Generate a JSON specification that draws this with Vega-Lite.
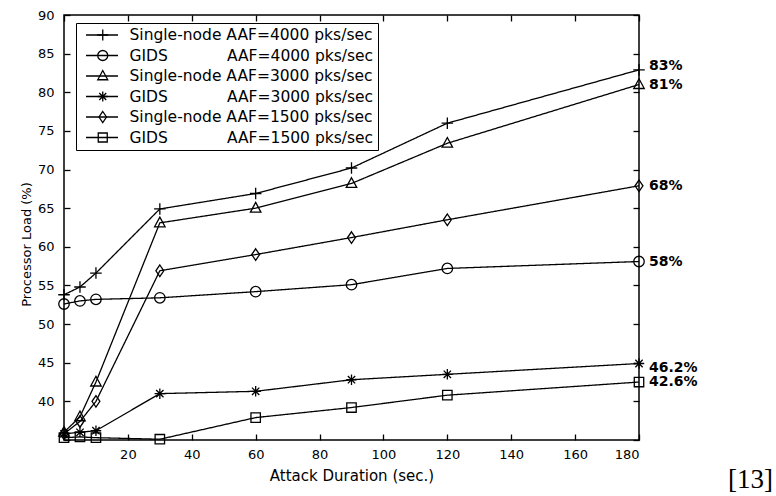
{
  "$schema": "https://vega.github.io/schema/vega-lite/v6.json",
  "width": 575,
  "height": 425,
  "autosize": {"type": "none"},
  "padding": {"left": 64, "top": 15, "right": 137, "bottom": 56},
  "background": "white",
  "config": {
    "view": {"stroke": "black", "strokeWidth": 1.5},
    "font": "DejaVu Sans"
  },
  "title": {
    "text": "[13]",
    "orient": "bottom",
    "anchor": "end",
    "frame": "group",
    "font": "Liberation Serif",
    "fontSize": 27,
    "fontWeight": "normal",
    "color": "black",
    "dx": 134,
    "dy": -16,
    "offset": 0
  },
  "data": {
    "values": [
      {"series": "Single-node AAF=4000 pks/sec", "duration": 0, "load": 53.8},
      {"series": "Single-node AAF=4000 pks/sec", "duration": 5, "load": 54.8},
      {"series": "Single-node AAF=4000 pks/sec", "duration": 10, "load": 56.6},
      {"series": "Single-node AAF=4000 pks/sec", "duration": 30, "load": 64.9},
      {"series": "Single-node AAF=4000 pks/sec", "duration": 60, "load": 66.9},
      {"series": "Single-node AAF=4000 pks/sec", "duration": 90, "load": 70.2},
      {"series": "Single-node AAF=4000 pks/sec", "duration": 120, "load": 76.0},
      {"series": "Single-node AAF=4000 pks/sec", "duration": 180, "load": 82.9, "label": "83%"},
      {"series": "GIDS\u00a0\u00a0\u00a0\u00a0\u00a0\u00a0\u00a0\u00a0\u00a0\u00a0\u00a0\u00a0AAF=4000 pks/sec", "duration": 0, "load": 52.6},
      {"series": "GIDS\u00a0\u00a0\u00a0\u00a0\u00a0\u00a0\u00a0\u00a0\u00a0\u00a0\u00a0\u00a0AAF=4000 pks/sec", "duration": 5, "load": 53.0},
      {"series": "GIDS\u00a0\u00a0\u00a0\u00a0\u00a0\u00a0\u00a0\u00a0\u00a0\u00a0\u00a0\u00a0AAF=4000 pks/sec", "duration": 10, "load": 53.2},
      {"series": "GIDS\u00a0\u00a0\u00a0\u00a0\u00a0\u00a0\u00a0\u00a0\u00a0\u00a0\u00a0\u00a0AAF=4000 pks/sec", "duration": 30, "load": 53.4},
      {"series": "GIDS\u00a0\u00a0\u00a0\u00a0\u00a0\u00a0\u00a0\u00a0\u00a0\u00a0\u00a0\u00a0AAF=4000 pks/sec", "duration": 60, "load": 54.2},
      {"series": "GIDS\u00a0\u00a0\u00a0\u00a0\u00a0\u00a0\u00a0\u00a0\u00a0\u00a0\u00a0\u00a0AAF=4000 pks/sec", "duration": 90, "load": 55.1},
      {"series": "GIDS\u00a0\u00a0\u00a0\u00a0\u00a0\u00a0\u00a0\u00a0\u00a0\u00a0\u00a0\u00a0AAF=4000 pks/sec", "duration": 120, "load": 57.2},
      {"series": "GIDS\u00a0\u00a0\u00a0\u00a0\u00a0\u00a0\u00a0\u00a0\u00a0\u00a0\u00a0\u00a0AAF=4000 pks/sec", "duration": 180, "load": 58.1, "label": "58%"},
      {"series": "Single-node AAF=3000 pks/sec", "duration": 0, "load": 36.0},
      {"series": "Single-node AAF=3000 pks/sec", "duration": 5, "load": 38.0},
      {"series": "Single-node AAF=3000 pks/sec", "duration": 10, "load": 42.5},
      {"series": "Single-node AAF=3000 pks/sec", "duration": 30, "load": 63.1},
      {"series": "Single-node AAF=3000 pks/sec", "duration": 60, "load": 65.0},
      {"series": "Single-node AAF=3000 pks/sec", "duration": 90, "load": 68.2},
      {"series": "Single-node AAF=3000 pks/sec", "duration": 120, "load": 73.4},
      {"series": "Single-node AAF=3000 pks/sec", "duration": 180, "load": 81.0, "label": "81%"},
      {"series": "GIDS\u00a0\u00a0\u00a0\u00a0\u00a0\u00a0\u00a0\u00a0\u00a0\u00a0\u00a0\u00a0AAF=3000 pks/sec", "duration": 0, "load": 35.8},
      {"series": "GIDS\u00a0\u00a0\u00a0\u00a0\u00a0\u00a0\u00a0\u00a0\u00a0\u00a0\u00a0\u00a0AAF=3000 pks/sec", "duration": 5, "load": 36.0},
      {"series": "GIDS\u00a0\u00a0\u00a0\u00a0\u00a0\u00a0\u00a0\u00a0\u00a0\u00a0\u00a0\u00a0AAF=3000 pks/sec", "duration": 10, "load": 36.2},
      {"series": "GIDS\u00a0\u00a0\u00a0\u00a0\u00a0\u00a0\u00a0\u00a0\u00a0\u00a0\u00a0\u00a0AAF=3000 pks/sec", "duration": 30, "load": 41.0},
      {"series": "GIDS\u00a0\u00a0\u00a0\u00a0\u00a0\u00a0\u00a0\u00a0\u00a0\u00a0\u00a0\u00a0AAF=3000 pks/sec", "duration": 60, "load": 41.3},
      {"series": "GIDS\u00a0\u00a0\u00a0\u00a0\u00a0\u00a0\u00a0\u00a0\u00a0\u00a0\u00a0\u00a0AAF=3000 pks/sec", "duration": 90, "load": 42.8},
      {"series": "GIDS\u00a0\u00a0\u00a0\u00a0\u00a0\u00a0\u00a0\u00a0\u00a0\u00a0\u00a0\u00a0AAF=3000 pks/sec", "duration": 120, "load": 43.5},
      {"series": "GIDS\u00a0\u00a0\u00a0\u00a0\u00a0\u00a0\u00a0\u00a0\u00a0\u00a0\u00a0\u00a0AAF=3000 pks/sec", "duration": 180, "load": 44.9, "label": "46.2%"},
      {"series": "Single-node AAF=1500 pks/sec", "duration": 0, "load": 35.8},
      {"series": "Single-node AAF=1500 pks/sec", "duration": 5, "load": 37.4},
      {"series": "Single-node AAF=1500 pks/sec", "duration": 10, "load": 40.0},
      {"series": "Single-node AAF=1500 pks/sec", "duration": 30, "load": 56.9},
      {"series": "Single-node AAF=1500 pks/sec", "duration": 60, "load": 59.0},
      {"series": "Single-node AAF=1500 pks/sec", "duration": 90, "load": 61.2},
      {"series": "Single-node AAF=1500 pks/sec", "duration": 120, "load": 63.5},
      {"series": "Single-node AAF=1500 pks/sec", "duration": 180, "load": 67.9, "label": "68%"},
      {"series": "GIDS\u00a0\u00a0\u00a0\u00a0\u00a0\u00a0\u00a0\u00a0\u00a0\u00a0\u00a0\u00a0AAF=1500 pks/sec", "duration": 0, "load": 35.3},
      {"series": "GIDS\u00a0\u00a0\u00a0\u00a0\u00a0\u00a0\u00a0\u00a0\u00a0\u00a0\u00a0\u00a0AAF=1500 pks/sec", "duration": 5, "load": 35.4},
      {"series": "GIDS\u00a0\u00a0\u00a0\u00a0\u00a0\u00a0\u00a0\u00a0\u00a0\u00a0\u00a0\u00a0AAF=1500 pks/sec", "duration": 10, "load": 35.3},
      {"series": "GIDS\u00a0\u00a0\u00a0\u00a0\u00a0\u00a0\u00a0\u00a0\u00a0\u00a0\u00a0\u00a0AAF=1500 pks/sec", "duration": 30, "load": 35.1},
      {"series": "GIDS\u00a0\u00a0\u00a0\u00a0\u00a0\u00a0\u00a0\u00a0\u00a0\u00a0\u00a0\u00a0AAF=1500 pks/sec", "duration": 60, "load": 37.9},
      {"series": "GIDS\u00a0\u00a0\u00a0\u00a0\u00a0\u00a0\u00a0\u00a0\u00a0\u00a0\u00a0\u00a0AAF=1500 pks/sec", "duration": 90, "load": 39.2},
      {"series": "GIDS\u00a0\u00a0\u00a0\u00a0\u00a0\u00a0\u00a0\u00a0\u00a0\u00a0\u00a0\u00a0AAF=1500 pks/sec", "duration": 120, "load": 40.8},
      {"series": "GIDS\u00a0\u00a0\u00a0\u00a0\u00a0\u00a0\u00a0\u00a0\u00a0\u00a0\u00a0\u00a0AAF=1500 pks/sec", "duration": 180, "load": 42.5, "label": "42.6%"}
    ]
  },
  "layer": [
    {
      "mark": {"type": "line", "color": "black", "strokeWidth": 1.3},
      "encoding": {
        "x": {
          "field": "duration", "type": "quantitative",
          "scale": {"domain": [0, 180], "nice": false, "zero": false},
          "axis": {
            "orient": "bottom",
            "values": [0, 20, 40, 60, 80, 100, 120, 140, 160, 180],
            "labelExpr": "datum.value == 0 ? '' : datum.label",
            "title": "Attack Duration (sec.)",
            "grid": false, "domain": false,
            "tickSize": -6, "tickColor": "black", "tickWidth": 1.3,
            "labelPadding": 14, "labelFontSize": 13, "labelColor": "black", "labelFont": "DejaVu Sans",
            "titleFontSize": 15, "titleFontWeight": "normal", "titleColor": "black", "titleFont": "DejaVu Sans",
            "titlePadding": 7
          }
        },
        "y": {
          "field": "load", "type": "quantitative",
          "scale": {"domain": [35, 90], "nice": false, "zero": false},
          "axis": {
            "orient": "left",
            "values": [35, 40, 45, 50, 55, 60, 65, 70, 75, 80, 85, 90],
            "labelExpr": "datum.value == 35 ? '' : datum.label",
            "title": "Processor Load (%)",
            "grid": false, "domain": false,
            "tickSize": -6, "tickColor": "black", "tickWidth": 1.3,
            "labelPadding": 16, "labelFontSize": 13, "labelColor": "black", "labelFont": "DejaVu Sans",
            "titleFontSize": 13, "titleFontWeight": "normal", "titleColor": "black", "titleFont": "DejaVu Sans",
            "titlePadding": 4, "titleY": 229
          }
        },
        "strokeDash": {
          "field": "series", "type": "nominal",
          "scale": {
            "domain": [
              "Single-node AAF=4000 pks/sec",
              "GIDS\u00a0\u00a0\u00a0\u00a0\u00a0\u00a0\u00a0\u00a0\u00a0\u00a0\u00a0\u00a0AAF=4000 pks/sec",
              "Single-node AAF=3000 pks/sec",
              "GIDS\u00a0\u00a0\u00a0\u00a0\u00a0\u00a0\u00a0\u00a0\u00a0\u00a0\u00a0\u00a0AAF=3000 pks/sec",
              "Single-node AAF=1500 pks/sec",
              "GIDS\u00a0\u00a0\u00a0\u00a0\u00a0\u00a0\u00a0\u00a0\u00a0\u00a0\u00a0\u00a0AAF=1500 pks/sec"
            ],
            "range": [[1, 0], [1, 0], [1, 0], [1, 0], [1, 0], [1, 0]]
          },
          "legend": {
            "orient": "top-left", "offset": 8,
            "title": null,
            "fillColor": null, "strokeColor": null,
            "padding": 4, "rowPadding": 3.5, "clipHeight": 16,
            "symbolType": "stroke", "symbolSize": 1024, "symbolStrokeWidth": 1.3, "symbolStrokeColor": "black",
            "symbolOffset": 9, "labelOffset": 19,
            "labelExpr": "''",
            "labelFont": "DejaVu Sans", "labelFontSize": 15.5, "labelOpacity": 0, "labelLimit": 400
          }
        }
      }
    },
    {
      "mark": {"type": "point", "filled": false, "color": "black", "size": 110, "strokeWidth": 1.3, "opacity": 1},
      "encoding": {
        "x": {
          "field": "duration", "type": "quantitative",
          "axis": {
            "orient": "top",
            "values": [0, 20, 40, 60, 80, 100, 120, 140, 160, 180],
            "labels": false, "title": null, "grid": false, "domain": false,
            "tickSize": -6, "tickColor": "black", "tickWidth": 1.3
          }
        },
        "y": {
          "field": "load", "type": "quantitative",
          "axis": {
            "orient": "right",
            "values": [35, 40, 45, 50, 55, 60, 65, 70, 75, 80, 85, 90],
            "labels": false, "title": null, "grid": false, "domain": false,
            "tickSize": -6, "tickColor": "black", "tickWidth": 1.3
          }
        },
        "shape": {
          "field": "series", "type": "nominal",
          "scale": {
            "domain": [
              "Single-node AAF=4000 pks/sec",
              "GIDS\u00a0\u00a0\u00a0\u00a0\u00a0\u00a0\u00a0\u00a0\u00a0\u00a0\u00a0\u00a0AAF=4000 pks/sec",
              "Single-node AAF=3000 pks/sec",
              "GIDS\u00a0\u00a0\u00a0\u00a0\u00a0\u00a0\u00a0\u00a0\u00a0\u00a0\u00a0\u00a0AAF=3000 pks/sec",
              "Single-node AAF=1500 pks/sec",
              "GIDS\u00a0\u00a0\u00a0\u00a0\u00a0\u00a0\u00a0\u00a0\u00a0\u00a0\u00a0\u00a0AAF=1500 pks/sec"
            ],
            "range": [
              "M-1.1,0L1.1,0M0,-1.1L0,1.1",
              "M-1,0A1,1,0,1,1,1,0A1,1,0,1,1,-1,0Z",
              "M0,-1.1L1,0.75L-1,0.75Z",
              "M-1,0L1,0M0,-1L0,1M-0.7,-0.7L0.7,0.7M-0.7,0.7L0.7,-0.7",
              "M0,-1.1L0.75,0L0,1.1L-0.75,0Z",
              "M-0.9,-0.9L0.9,-0.9L0.9,0.9L-0.9,0.9Z"
            ]
          },
          "legend": {
            "orient": "none", "legendX": 12, "legendY": 8,
            "title": null,
            "fillColor": null, "strokeColor": "black",
            "padding": 4, "rowPadding": 3.5, "clipHeight": 16,
            "symbolSize": 100, "symbolStrokeWidth": 1.3, "symbolStrokeColor": "black", "symbolFillColor": "white",
            "symbolOffset": 15, "labelOffset": 19,
            "labelFont": "DejaVu Sans", "labelFontSize": 15.5, "labelColor": "black", "labelLimit": 400
          }
        }
      }
    },
    {
      "transform": [{"filter": "datum.label == '83%'"}],
      "mark": {"type": "text", "align": "left", "baseline": "middle", "dx": 10, "dy": -4, "font": "DejaVu Sans", "fontWeight": "bold", "fontSize": 14, "color": "black"},
      "encoding": {
        "x": {"field": "duration", "type": "quantitative", "axis": null},
        "y": {"field": "load", "type": "quantitative", "axis": null},
        "text": {"field": "label"}
      }
    },
    {
      "transform": [{"filter": "datum.label == '46.2%'"}],
      "mark": {"type": "text", "align": "left", "baseline": "middle", "dx": 10, "dy": 4, "font": "DejaVu Sans", "fontWeight": "bold", "fontSize": 14, "color": "black"},
      "encoding": {
        "x": {"field": "duration", "type": "quantitative", "axis": null},
        "y": {"field": "load", "type": "quantitative", "axis": null},
        "text": {"field": "label"}
      }
    },
    {
      "transform": [{"filter": "datum.label && datum.label != '83%' && datum.label != '46.2%'"}],
      "mark": {"type": "text", "align": "left", "baseline": "middle", "dx": 10, "dy": 0, "font": "DejaVu Sans", "fontWeight": "bold", "fontSize": 14, "color": "black"},
      "encoding": {
        "x": {"field": "duration", "type": "quantitative", "axis": null},
        "y": {"field": "load", "type": "quantitative", "axis": null},
        "text": {"field": "label"}
      }
    }
  ],
  "resolve": {"axis": {"x": "independent", "y": "independent"}}
}
